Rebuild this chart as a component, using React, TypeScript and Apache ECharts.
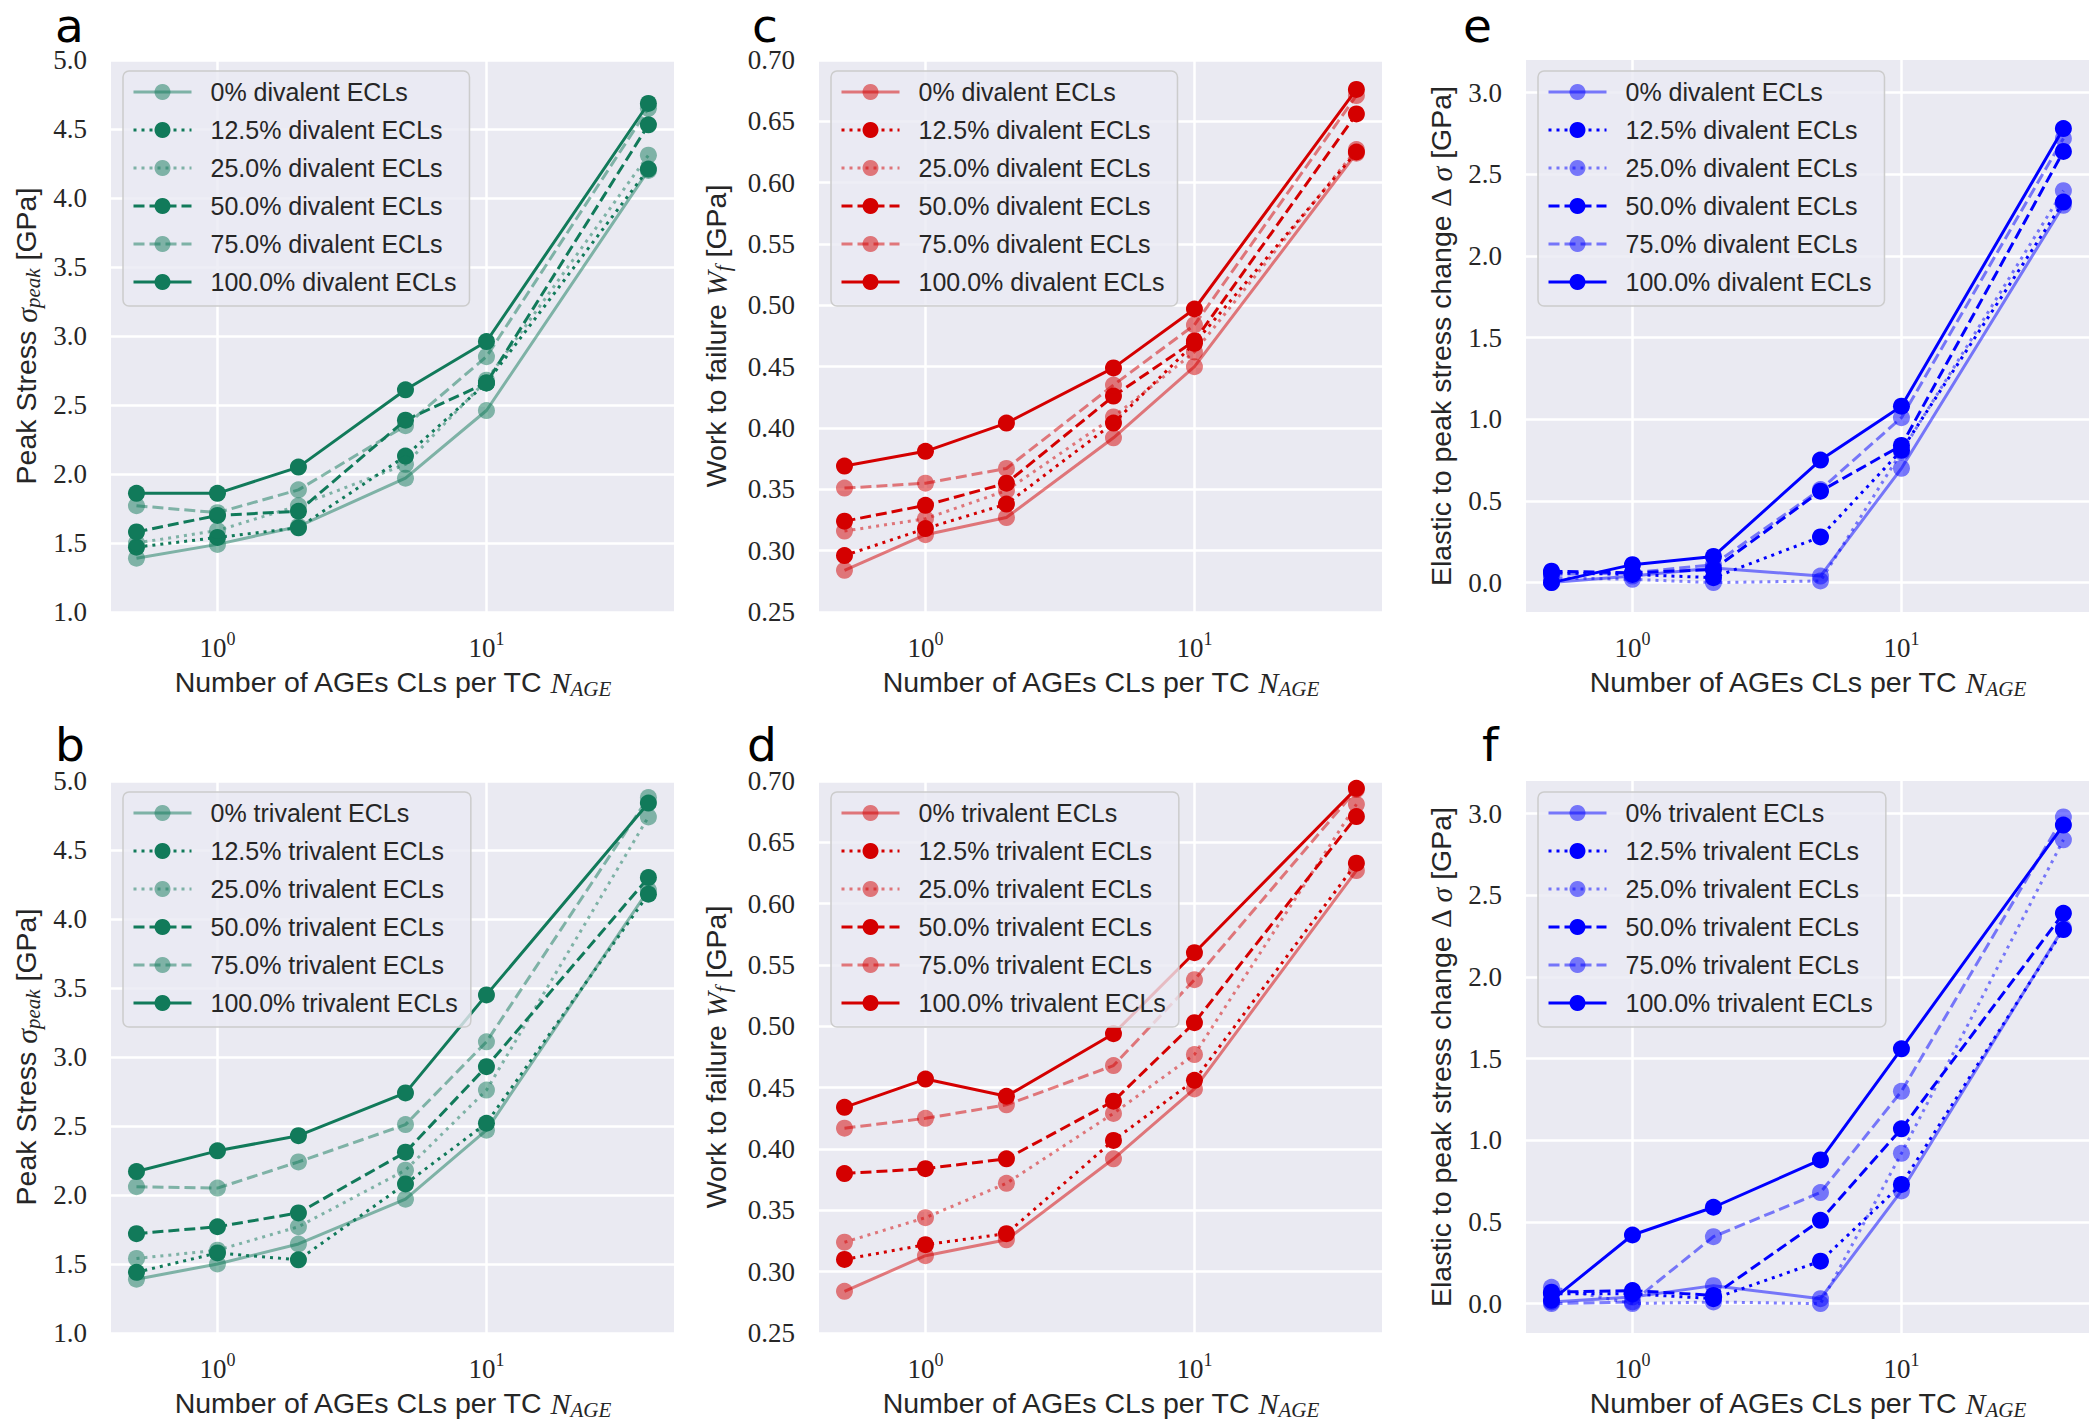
import React, { useEffect, useRef } from "react";
import * as echarts from "echarts";

// ---------- data ----------
const xValues = [0.5, 1, 2, 5, 10, 40];
const fractions = ["0%", "12.5%", "25.0%", "50.0%", "75.0%", "100.0%"];

// a: peak stress, divalent
const peakDivalent = [
  [1.39, 1.49, 1.62, 1.97, 2.46, 4.2],
  [1.47, 1.54, 1.61, 2.13, 2.66, 4.21],
  [1.5, 1.59, 1.77, 2.07, 2.68, 4.31],
  [1.58, 1.7, 1.73, 2.39, 2.66, 4.53],
  [1.77, 1.72, 1.885, 2.35, 2.85, 4.65],
  [1.86, 1.86, 2.05, 2.61, 2.96, 4.685],
];
// b: peak stress, trivalent
const peakTrivalent = [
  [1.39, 1.5, 1.645, 1.97, 2.47, 4.21],
  [1.44, 1.58, 1.53, 2.08, 2.52, 4.18],
  [1.54, 1.6, 1.77, 2.18, 2.76, 4.74],
  [1.72, 1.77, 1.87, 2.31, 2.93, 4.3],
  [2.06, 2.05, 2.24, 2.51, 3.11, 4.88],
  [2.17, 2.32, 2.43, 2.74, 3.45, 4.84],
];
// c: work to failure, divalent
const workDivalent = [
  [0.284, 0.313, 0.327, 0.392, 0.45, 0.624],
  [0.296, 0.318, 0.338, 0.404, 0.469, 0.625],
  [0.316, 0.326, 0.349, 0.409, 0.462, 0.627],
  [0.324, 0.337, 0.355, 0.426, 0.471, 0.656],
  [0.351, 0.355, 0.367, 0.435, 0.484, 0.671],
  [0.369, 0.381, 0.404, 0.449, 0.497, 0.676],
];
// d: work to failure, trivalent
const workTrivalent = [
  [0.284, 0.313, 0.326, 0.392, 0.449, 0.627],
  [0.31, 0.322, 0.331, 0.407, 0.456, 0.633],
  [0.324, 0.344, 0.372, 0.429, 0.477, 0.681],
  [0.38, 0.384, 0.392, 0.439, 0.503, 0.671],
  [0.417, 0.425, 0.436, 0.468, 0.538, 0.693],
  [0.434, 0.457, 0.443, 0.494, 0.56, 0.694],
];
// e: elastic to peak stress change, divalent
const deltaDivalent = [
  [0.0, 0.04, 0.09, 0.04, 0.7, 2.31],
  [0.06, 0.05, 0.03, 0.28, 0.81, 2.33],
  [0.03, 0.02, 0.0, 0.01, 0.8, 2.4],
  [0.07, 0.06, 0.08, 0.56, 0.84, 2.64],
  [0.05, 0.06, 0.11, 0.57, 1.01, 2.72],
  [0.0, 0.11, 0.16, 0.75, 1.08, 2.78],
];
// f: elastic to peak stress change, trivalent
const deltaTrivalent = [
  [0.01, 0.04, 0.11, 0.03, 0.69, 2.3],
  [0.06, 0.06, 0.03, 0.26, 0.73, 2.29],
  [0.1, 0.0, 0.01, 0.0, 0.92, 2.84],
  [0.07, 0.08, 0.05, 0.51, 1.07, 2.39],
  [0.0, 0.01, 0.41, 0.68, 1.3, 2.98],
  [0.02, 0.42, 0.59, 0.88, 1.56, 2.93],
];

const yTicksPeak = [1.0, 5.0];
const yTicksWork = [0.25, 0.7];
const yRangeDelta = [-0.18, 3.2];

// ---------- styling ----------
const GREEN = [17, 122, 90];
const RED = [212, 0, 0];
const BLUE = [0, 0, 255];
const TXT = "#262626";
const SANS = "Liberation Sans";
const SERIF = "Liberation Serif";

const rgba = (c: number[], a: number) => `rgba(${c[0]},${c[1]},${c[2]},${a})`;

const lineTypes: any[] = ["solid", [3, 5], [3, 5], [11, 5], [11, 5], "solid"];
const alphas = [0.5, 1, 0.5, 1, 0.5, 1];

const colLeft = [111, 819, 1526];
const rowTop = [60, 781];
const GW = 563;
const GH = 552;

const nameRich = {
  t: { fontFamily: SANS, fontSize: 28.5, color: TXT, lineHeight: 34 },
  m: { fontFamily: SERIF, fontStyle: "italic", fontSize: 30, color: TXT, lineHeight: 34 },
  u: { fontFamily: SERIF, fontSize: 29, color: TXT, lineHeight: 34 },
  s: { fontFamily: SERIF, fontStyle: "italic", fontSize: 21, color: TXT, lineHeight: 20, verticalAlign: "bottom" },
};

type Panel = {
  letter: string;
  col: number;
  row: number;
  data: number[][];
  color: number[];
  kind: string;
  yName: string;
  yMin: number;
  yMax: number;
  interval?: number;
  splitNumber?: number;
  decimals: number;
  yNameGap: number;
};

const panels: Panel[] = [
  { letter: "a", col: 0, row: 0, data: peakDivalent, color: GREEN, kind: "divalent", yName: "{t|Peak Stress }{m|σ}{s|peak}{t| [GPa]}", yMin: yTicksPeak[0], yMax: yTicksPeak[1], interval: 0.5, decimals: 1, yNameGap: 68 },
  { letter: "b", col: 0, row: 1, data: peakTrivalent, color: GREEN, kind: "trivalent", yName: "{t|Peak Stress }{m|σ}{s|peak}{t| [GPa]}", yMin: yTicksPeak[0], yMax: yTicksPeak[1], interval: 0.5, decimals: 1, yNameGap: 68 },
  { letter: "c", col: 1, row: 0, data: workDivalent, color: RED, kind: "divalent", yName: "{t|Work to failure }{m|W}{s|f}{t| [GPa]}", yMin: yTicksWork[0], yMax: yTicksWork[1], interval: 0.05, decimals: 2, yNameGap: 86 },
  { letter: "d", col: 1, row: 1, data: workTrivalent, color: RED, kind: "trivalent", yName: "{t|Work to failure }{m|W}{s|f}{t| [GPa]}", yMin: yTicksWork[0], yMax: yTicksWork[1], interval: 0.05, decimals: 2, yNameGap: 86 },
  { letter: "e", col: 2, row: 0, data: deltaDivalent, color: BLUE, kind: "divalent", yName: "{t|Elastic to peak stress change }{u|Δ }{m|σ}{t| [GPa]}", yMin: yRangeDelta[0], yMax: yRangeDelta[1], splitNumber: 7, decimals: 1, yNameGap: 68 },
  { letter: "f", col: 2, row: 1, data: deltaTrivalent, color: BLUE, kind: "trivalent", yName: "{t|Elastic to peak stress change }{u|Δ }{m|σ}{t| [GPa]}", yMin: yRangeDelta[0], yMax: yRangeDelta[1], splitNumber: 7, decimals: 1, yNameGap: 68 },
];

const letterPos: Record<string, number[]> = {
  a: [55, 25], b: [55, 744], c: [752, 25], d: [747, 744], e: [1463, 25], f: [1482, 744],
};

function buildOption() {
  const grid: any[] = [];
  const xAxis: any[] = [];
  const yAxis: any[] = [];
  const series: any[] = [];
  const legend: any[] = [];
  const graphic: any[] = [];

  panels.forEach((p, i) => {
    const left = colLeft[p.col];
    const top = rowTop[p.row];
    grid.push({ left, top, width: GW, height: GH, show: true, backgroundColor: "#EAEAF2", borderWidth: 0, containLabel: false });
    xAxis.push({
      type: "log",
      logBase: 10,
      gridIndex: i,
      min: 0.402,
      max: 49.8,
      axisLine: { show: false },
      axisTick: { show: false },
      splitLine: { show: true, showMinLine: false, showMaxLine: false, lineStyle: { color: "#ffffff", width: 2.5 } },
      axisLabel: {
        showMinLabel: false,
        showMaxLabel: false,
        margin: 18,
        formatter: (v: number) => {
          const e = Math.log10(v);
          if (Math.abs(e - Math.round(e)) > 1e-6) return "";
          return `{b|10}{s|${Math.round(e)}}`;
        },
        rich: {
          b: { fontFamily: SERIF, fontSize: 27, color: TXT, lineHeight: 36, verticalAlign: "middle" },
          s: { fontFamily: SERIF, fontSize: 18, color: TXT, lineHeight: 24, verticalAlign: "top" },
        },
      },
      name: "{t|Number of AGEs CLs per TC }{m|N}{s|AGE}",
      nameLocation: "middle",
      nameGap: 53,
      nameTextStyle: { rich: nameRich },
    });
    const yCfg: any = {
      type: "value",
      gridIndex: i,
      min: p.yMin,
      max: p.yMax,
      axisLine: { show: false },
      axisTick: { show: false },
      splitLine: { show: true, lineStyle: { color: "#ffffff", width: 2.5 } },
      axisLabel: {
        margin: 24,
        fontFamily: SERIF,
        fontSize: 27,
        lineHeight: 28,
        color: TXT,
        formatter: (v: number) => v.toFixed(p.decimals),
      },
      name: p.yName,
      nameLocation: "middle",
      nameRotate: 90,
      nameGap: p.yNameGap,
      nameTextStyle: { rich: nameRich },
    };
    if (p.interval) yCfg.interval = p.interval;
    if (p.splitNumber) {
      yCfg.splitNumber = p.splitNumber;
      yCfg.axisLabel.showMinLabel = false;
      yCfg.axisLabel.showMaxLabel = false;
      yCfg.splitLine.showMinLine = false;
      yCfg.splitLine.showMaxLine = false;
    }
    yAxis.push(yCfg);

    const names: string[] = [];
    p.data.forEach((vals, k) => {
      const name = `${p.letter}|${fractions[k]} ${p.kind} ECLs`;
      names.push(name);
      const col = rgba(p.color, alphas[k]);
      series.push({
        type: "line",
        name,
        xAxisIndex: i,
        yAxisIndex: i,
        data: xValues.map((x, j) => [x, vals[j]]),
        symbol: "circle",
        symbolSize: 17,
        showSymbol: true,
        silent: true,
        lineStyle: { color: col, width: 3, type: lineTypes[k] },
        itemStyle: { color: col, borderWidth: 0 },
        emphasis: { disabled: true },
      });
    });
    legend.push({
      orient: "vertical",
      left: left + 12,
      top: top + 11,
      data: names,
      selectedMode: false,
      formatter: (n: string) => n.split("|")[1],
      itemWidth: 58,
      itemHeight: 20,
      itemGap: 12,
      padding: [8, 13, 11, 9],
      backgroundColor: "rgba(234,234,242,0.8)",
      borderColor: "#cccccc",
      borderWidth: 1.5,
      borderRadius: 6,
      lineStyle: { width: 3 },
      textStyle: { fontFamily: SANS, fontSize: 25, color: TXT, lineHeight: 26, padding: [0, 0, 0, 14] },
    });
    const lp = letterPos[p.letter];
    graphic.push({
      type: "text",
      x: lp[0],
      y: lp[1],
      style: { text: p.letter, fontFamily: "DejaVu Sans", fontSize: 47, lineHeight: 32, fill: "#000000", align: "left", verticalAlign: "middle" },
    });
  });

  return { animation: false, backgroundColor: "#ffffff", grid, xAxis, yAxis, series, legend, graphic };
}

export default function App() {
  const ref = useRef<HTMLDivElement>(null);
  useEffect(() => {
    if (!ref.current) return;
    const chart = echarts.init(ref.current, undefined, { renderer: "svg" });
    chart.setOption(buildOption() as any);
    return () => chart.dispose();
  }, []);
  return <div ref={ref} style={{ position: "fixed", left: 0, top: 0, width: 2100, height: 1428 }} />;
}
